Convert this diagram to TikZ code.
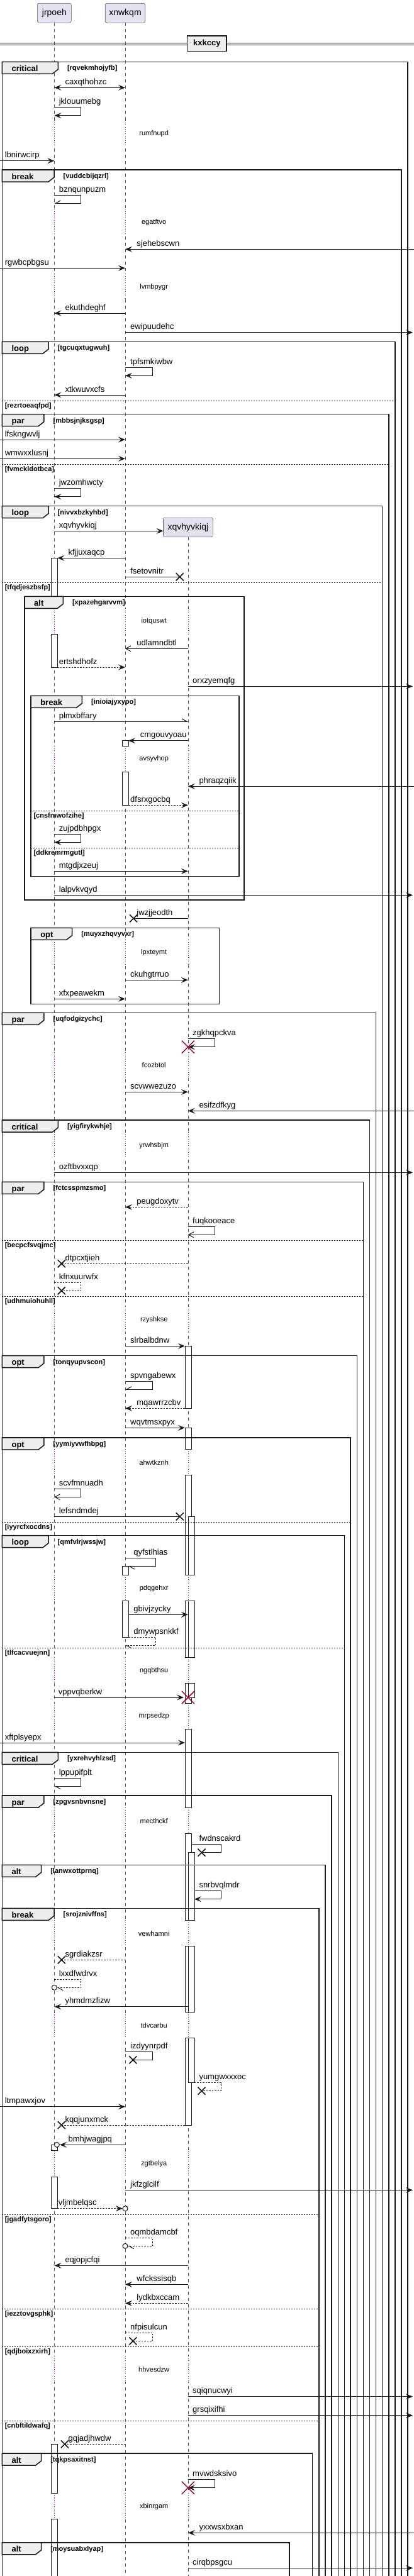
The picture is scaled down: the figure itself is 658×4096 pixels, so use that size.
\documentclass[tikz,border=0pt]{standalone}
\usepackage{fontspec}
\setmainfont{Liberation Sans}
\usetikzlibrary{arrows.meta}

\definecolor{ink}{HTML}{181818}
\definecolor{partfill}{HTML}{E2E2F0}
\definecolor{tabfill}{HTML}{EEEEEE}
\definecolor{delayred}{HTML}{A80036}

\tikzset{
  phead/.tip={Stealth[length=11pt,width=9pt,inset=4.5pt]},
  pbarb/.tip={Straight Barb[length=8pt,width=9pt]},
  phalfl/.tip={Straight Barb[length=8pt,width=9pt,left]},
  phalfr/.tip={Straight Barb[length=8pt,width=9pt,right]},
  part/.style={draw=ink!70,line width=0.6pt,fill=partfill,rounded corners=2.5pt,
    minimum height=30.7,inner sep=0pt,font=\fontsize{14}{16}\selectfont},
  life/.style={draw=ink!75,line width=0.6pt,dash pattern=on 5pt off 5pt},
  dly/.style={draw=delayred,line width=0.8pt,dash pattern=on 1pt off 2.5pt},
  actbox/.style={draw=ink,line width=0.8pt,fill=white},
  frm/.style={draw=ink,line width=1.5pt},
  elseln/.style={draw=ink,line width=0.8pt,dash pattern=on 2pt off 2pt},
  msg/.style={draw=ink,line width=1pt},
  arr/.style={-{phead}},
  biarr/.style={{phead}-{phead}},
  barb/.style={-{pbarb}},
  hl/.style={-{phalfl}},
  hr/.style={-{phalfr}},
  dsh/.style={dash pattern=on 2.5pt off 2pt},
  lbl/.style={anchor=base west,inner sep=0pt,font=\fontsize{13}{15}\selectfont},
  tablbl/.style={anchor=base west,inner sep=0pt,font=\bfseries\fontsize{13}{15}\selectfont},
  condlbl/.style={anchor=base west,inner sep=0pt,font=\bfseries\fontsize{11}{13}\selectfont},
  dlylbl/.style={inner sep=0pt,font=\fontsize{11}{13}\selectfont},
  xmk/.style={draw=ink,line width=1.6pt},
  killmk/.style={draw=delayred,line width=1.5pt},
}

% lifeline positions
\def\La{86.4}
\def\Lb{199}
\def\Lc{298.9}

% frame: top, left, right, bottom, tab right, kind, condition
\newcommand{\frm}[7]{%
  \draw[frm] (#2,#1) rectangle (#3,#4);
  \draw[frm,fill=tabfill] (#2,#1) -- (#5,#1) -- (#5,#1+12) -- (#5-9,#1+19) -- (#2,#1+19) -- cycle;
  \node[tablbl] (#7-tab) at (#2+15,#1+15) {#6};
  \node[condlbl] (#7) at (#5+14.5,#1+13.5) {[#7]};
}
% else line: y, left, right, condition
\newcommand{\elseline}[4]{%
  \draw[elseln] (#2,#1) -- (#3,#1);
  \node[condlbl] (#4) at (#2+4.2,#1+11) {[#4]};
}
% delay: y, text, lifelines
\newcommand{\delay}[3]{%
  \foreach \lx in {#3}{
    \draw[white,line width=2pt] (\lx,#1-21) -- (\lx,#1+20);
    \draw[dly] (\lx,#1-21) -- (\lx,#1+20);
  }
  \node[dlylbl] (#2) at (244.7,#1) {#2};
}
% activation: x, from y, to y
\newcommand{\actbar}[3]{\draw[actbox] (#1-5,#2) rectangle (#1+5,#3);}
% message: style, y, from x, to x, label x, text
\newcommand{\msg}[6][]{%
  \coordinate (#6-s) at (#3,#2);
  \coordinate (#6-e) at (#4,#2);
  \draw[msg,#1] (#6-s) -- (#6-e);
  \node[lbl] (m-#6) at (#5,#2-5) {#6};
}
% self message: style, top y, start x, right x, end x, label x, text
\newcommand{\selfmsg}[7][]{%
  \coordinate (#7-s) at (#3,#2);
  \coordinate (#7-e) at (#5,#2+13);
  \draw[msg,#1] (#7-s) -- (#4,#2) -- (#4,#2+13) -- (#7-e);
  \node[lbl] (m-#7) at (#6,#2-5) {#7};
}
\newcommand{\lost}[2]{\draw[xmk] (#1-6,#2-6) -- (#1+6,#2+6) (#1-6,#2+6) -- (#1+6,#2-6);}
\newcommand{\destroy}[2]{\draw[killmk] (#1-10,#2-10) -- (#1+10,#2+10) (#1-10,#2+10) -- (#1+10,#2-10);}
\newcommand{\ring}[2]{\draw[msg,fill=white] (#1,#2) circle[radius=4pt];}

\begin{document}
\begin{tikzpicture}[x=1pt,y=-1pt]
\useasboundingbox (0,0) rectangle (658,4096);
\fill[white] (0,0) rectangle (658,4096);

% participants and lifelines
\node[part,minimum width=54] (jrpoeh) at (\La,20.7) {jrpoeh};
\node[part,minimum width=63.5] (xnwkqm) at (\Lb,20.7) {xnwkqm};
\node[part,minimum width=78.8] (xqvhyvkiqj) at (\Lc,838.5) {xqvhyvkiqj};
\coordinate (jrpoeh-end) at (\La,4110);
\coordinate (xnwkqm-end) at (\Lb,4110);
\coordinate (xqvhyvkiqj-end) at (\Lc,4110);
\draw[life] (jrpoeh) -- (jrpoeh-end);
\draw[life] (xnwkqm) -- (xnwkqm-end);
\draw[life] (xqvhyvkiqj) -- (xqvhyvkiqj-end);

% delays
\delay{212.3}{rumfnupd}{\La,\Lb}
\delay{353.3}{egatftvo}{\La,\Lb}
\delay{456.3}{lvmbpygr}{\La,\Lb}
\delay{988}{iotquswt}{\La,\Lb,\Lc}
\delay{1207}{avsyvhop}{\La,\Lb,\Lc}
\delay{1515}{lpxteymt}{\La,\Lb,\Lc}
\delay{1694}{fcozbtol}{\La,\Lb,\Lc}
\delay{1821.3}{yrwhsbjm}{\La,\Lb,\Lc}
\delay{2098.3}{rzyshkse}{\La,\Lb,\Lc}
\delay{2325.3}{ahwtkznh}{\La,\Lb,\Lc}
\delay{2525.3}{pdqgehxr}{\La,\Lb,\Lc}
\delay{2656.3}{ngqbthsu}{\La,\Lb,\Lc}
\delay{2729}{mrpsedzp}{\La,\Lb,\Lc}
\delay{2895.3}{mecthckf}{\La,\Lb,\Lc}
\delay{3074.3}{vewhamni}{\La,\Lb,\Lc}
\delay{3220.7}{tdvcarbu}{\La,\Lb,\Lc}
\delay{3440.7}{zgtbelya}{\La,\Lb,\Lc}
\delay{3767.3}{hhvesdzw}{\La,\Lb,\Lc}
\delay{3985.3}{xbinrgam}{\La,\Lb,\Lc}

% activations
\actbar{\La}{887.3}{948.3}
\actbar{\La}{1008}{1061}
\actbar{\La}{3410.3}{3419.7}
\actbar{\La}{3461}{3511.7}
\actbar{\La}{3886.3}{3964.3}
\actbar{\La}{4005.3}{4110}
\actbar{\Lb}{1177.7}{1186}
\actbar{\Lb}{1227}{1280.3}
\actbar{\Lb}{2490.3}{2504.3}
\actbar{\Lb}{2545.3}{2603.3}
\foreach \ya/\yb in {2140.3/2239.3,2270.3/2304.3,2345.3/2504.3,2545.3/2635.3,2676.3/2708,
  2749/2874.3,2915.3/3053.3,3094.3/3199.7,3240.7/3379}
  \actbar{\Lc}{\ya}{\yb};
\foreach \ya/\yb in {2411.3/2504.3,2545.3/2635.3,2676.3/2699,2945.7/3053.3,3094.3/3199.7,3240.7/3311.7}
  \actbar{\Lc+5}{\ya}{\yb};

% divider
\draw[ink,line width=0.9pt] (0,68.7) -- (658,68.7) (0,71.3) -- (658,71.3);
\node[draw=ink,line width=1.6pt,fill=tabfill,minimum width=62.3,minimum height=24.7,inner sep=0pt,
  font=\bfseries\fontsize{13}{15}\selectfont] (kxkccy) at (328.8,69.3) {kxkccy};

% frames
\frm{98.3}{3.4}{647.8}{4110}{92.3}{critical}{rqvekmhojyfb}
\frm{270}{3.4}{638.1}{4110}{86}{break}{vuddcbijqzrl}
\frm{543.3}{3.4}{627.9}{4110}{77}{loop}{tgcuqxtugwuh}
\elseline{637}{3.4}{627.9}{rezrtoeaqfpd}
\frm{658.7}{3.4}{618.2}{4110}{69.9}{par}{mbbsjnjksgsp}
\elseline{738}{3.4}{618.2}{fvmckldotbca}
\frm{804.7}{3.4}{607.6}{4110}{77}{loop}{nivvxbzkyhbd}
\elseline{926.3}{3.4}{607.6}{tfqdjeszbsfp}
\frm{948.3}{39}{387.8}{1431}{100.3}{alt}{xpazehgarvvm}
\frm{1106.3}{49.1}{379.8}{1393.3}{130.4}{break}{inioiajyxypo}
\elseline{1289.3}{49.1}{379.8}{cnsfmwofzihe}
\elseline{1348.3}{49.1}{379.8}{ddkremrmgutl}
\frm{1475.3}{49.1}{348.5}{1596.3}{114.7}{opt}{muyxzhqvyvxr}
\frm{1610.3}{3.4}{597.4}{4110}{69.9}{par}{uqfodgizychc}
\frm{1781}{3.4}{587.7}{4110}{92.3}{critical}{yigfirykwhje}
\frm{1879.3}{3.4}{577.5}{4110}{69.9}{par}{fctcsspmzsmo}
\elseline{1972.3}{3.4}{577.5}{becpcfsvqjmc}
\elseline{2061.3}{3.4}{577.5}{udhmuiohuhll}
\frm{2155.7}{3.4}{567.4}{4110}{69.9}{opt}{tonqyupvscon}
\frm{2286}{3.4}{557.2}{4110}{69.9}{opt}{yymiyvwfhbpg}
\elseline{2420}{3.4}{557.2}{iyyrcfxocdns}
\frm{2441.7}{3.4}{547.4}{4110}{77}{loop}{qmfvlrjwssjw}
\elseline{2620.3}{3.4}{547.4}{tlfcacvuejnn}
\frm{2786.3}{3.4}{537.3}{4110}{92.3}{critical}{yxrehvyhlzsd}
\frm{2855}{3.4}{527.1}{4110}{69.9}{par}{zpgvsnbvnsne}
\frm{2965.3}{3.4}{517}{4110}{65.6}{alt}{lanwxottprnq}
\frm{3034.3}{3.4}{506.8}{4110}{86}{break}{srojznivffns}
\elseline{3521}{3.4}{506.8}{jgadfytsgoro}
\elseline{3671}{3.4}{506.8}{iezztovgsphk}
\elseline{3731.3}{3.4}{506.8}{qdjboixzxirh}
\elseline{3849.3}{3.4}{506.8}{cnbftildwafq}
\frm{3901}{3.4}{496.7}{4110}{65.6}{alt}{tqkpsaxitnst}
\frm{4042.7}{3.4}{459.8}{4110}{65.6}{alt}{moysuabxlyap}

% messages
\msg[biarr]{139.3}{\La}{\Lb}{103.3}{caxqthohzc}
\selfmsg[arr]{170.7}{\La}{128.7}{\La}{93.6}{jklouumebg}
\msg[arr]{255.7}{0}{\La}{7.6}{lbnirwcirp}
\selfmsg[hr]{310.3}{\La}{128.7}{\La}{93.6}{bznqunpuzm}
\msg[arr]{396.3}{658}{\Lb}{217.2}{sjehebscwn}
\msg[arr]{426.3}{0}{\Lb}{7.6}{rgwbcpbgsu}
\msg[arr]{498}{\Lb}{\La}{103.3}{ekuthdeghf}
\msg[arr]{528.7}{\Lb}{656}{207}{ewipuudehc}
\selfmsg[arr]{584.3}{\Lb}{242.6}{\Lb}{207}{tpfsmkiwbw}
\msg[arr]{628}{\Lb}{\La}{103.3}{xtkwuvxcfs}
\msg[arr]{699}{0}{\Lb}{7.6}{lfskngwvlj}
\msg[arr]{729.3}{0}{\Lb}{7.6}{wmwxxlusnj}
\selfmsg[arr]{776.7}{\La}{128.7}{\La}{93.6}{jwzomhwcty}
\msg[arr]{844.3}{\La}{259.5}{93.6}{xqvhyvkiqj}
\msg[arr]{887.3}{\Lb}{\La+5}{108.4}{kfjjuxaqcp}
\msg{917.3}{\Lb}{285.8}{207}{fsetovnitr}
\lost{285.8}{917.3}
\msg[barb]{1031.3}{\Lc}{\Lb}{217.2}{udlamndbtl}
\msg[arr,dsh]{1061}{\La+5}{\Lb}{93.6}{ertshdhofz}
\msg[arr]{1091.3}{\Lc}{656}{306}{orxzyemqfg}
\msg[hl]{1147.3}{\La}{\Lc}{93.6}{plmxbffary}
\msg[arr]{1177.7}{\Lc}{\Lb+5}{222.7}{cmgouvyoau}
\msg[arr]{1250.3}{658}{\Lc}{316.3}{phraqzqiik}
\msg[arr,dsh]{1280.3}{\Lb+5}{\Lc}{207}{dfsrxgocbq}
\selfmsg[arr]{1326.3}{\La}{128.7}{\La}{93.6}{zujpdbhpgx}
\msg[arr]{1385.3}{\La}{\Lc}{93.6}{mtgdjxzeuj}
\msg[arr]{1423.3}{\La}{656}{93.6}{lalpvkvqyd}
\msg{1460.3}{\Lc}{212.1}{217.2}{jwzjjeodth}
\lost{212.1}{1460.3}
\msg[arr]{1558.3}{\Lb}{\Lc}{207}{ckuhgtrruo}
\msg[arr]{1588.3}{\La}{\Lb}{93.6}{xfxpeawekm}
\selfmsg[arr]{1651.7}{\Lc}{341.3}{\Lc}{306}{zgkhqpckva}
\destroy{\Lc}{1664.7}
\msg[arr]{1736.3}{\Lb}{\Lc}{207}{scvwwezuzo}
\msg[arr]{1766.3}{658}{\Lc}{316.3}{esifzdfkyg}
\msg[arr]{1864.3}{\La}{656}{93.6}{ozftbvxxqp}
\msg[arr,dsh]{1919.3}{\Lc}{\Lb}{217.2}{peugdoxytv}
\selfmsg[barb]{1950.3}{\Lc}{341.3}{\Lc}{306}{fuqkooeace}
\msg[dsh]{2009.3}{\Lc}{97.8}{103.3}{dtpcxtjieh}
\lost{97.8}{2009.3}
\selfmsg[dsh]{2039.3}{\La}{128.7}{97.8}{93.6}{kfnxuurwfx}
\lost{97.8}{2052.3}
\msg[arr]{2140.3}{\Lb}{\Lc-5}{207}{slrbalbdnw}
\selfmsg[hr]{2196.3}{\Lb}{242.6}{\Lb}{207}{spvngabewx}
\msg[arr,dsh]{2239.3}{\Lc-5}{\Lb}{217.2}{mqawrrzcbv}
\msg[arr]{2270.3}{\Lb}{\Lc-5}{207}{wqvtmsxpyx}
\selfmsg[barb]{2367.3}{\La}{128.7}{\La}{93.6}{scvfmnuadh}
\msg{2411.3}{\La}{285.8}{93.6}{lefsndmdej}
\lost{285.8}{2411.3}
\selfmsg[hl]{2477.7}{\Lb}{247.7}{\Lb+5}{212.1}{qyfstlhias}
\msg[arr]{2567.3}{\Lb+5}{\Lc}{212.1}{gbivjzycky}
\selfmsg[hl,dsh]{2603.3}{\Lb+5}{247.7}{\Lb}{212.1}{dmywpsnkkf}
\msg[arr]{2699}{\La}{292}{92.7}{vppvqberkw}
\destroy{\Lc}{2699}
\msg[arr]{2771}{0}{\Lc-5}{7.6}{xftplsyepx}
\selfmsg[hl]{2827.3}{\La}{128.7}{\La}{93.6}{lppupifplt}
\selfmsg{2932.7}{\Lc+5}{351.4}{320.5}{316.3}{fwdnscakrd}
\lost{320.5}{2945.7}
\selfmsg[arr]{3006.7}{\Lc+10}{351.4}{\Lc+10}{316.3}{snrbvqlmdr}
\msg[dsh]{3116.3}{\Lb}{97.8}{103.3}{sgrdiakzsr}
\lost{97.8}{3116.3}
\selfmsg[hl,dsh]{3147.3}{\La}{128.7}{\La+4}{93.6}{lxxdfwdrvx}
\ring{\La}{3160.3}
\msg[arr]{3190.7}{\Lc}{\La}{103.3}{yhmdmzfizw}
\selfmsg{3262.3}{\Lb}{242.6}{211.3}{207}{izdyynrpdf}
\lost{211.3}{3275.3}
\selfmsg[dsh]{3311.7}{\Lc+10}{351.4}{320.5}{316.3}{yumgwxxxoc}
\lost{320.5}{3324.7}
\msg[arr]{3349.7}{0}{\Lb}{7.6}{ltmpawxjov}
\msg[dsh]{3379}{\Lc-5}{97.8}{103.3}{kqqjunxmck}
\lost{97.8}{3379}
\msg[arr]{3410.3}{\Lb}{95}{108.4}{bmhjwagjpq}
\ring{90.4}{3410.3}
\msg[arr]{3482.3}{\Lb}{656}{207}{jkfzglcilf}
\msg[arr,dsh]{3511.7}{\La+5}{195}{92.7}{vljmbelqsc}
\ring{\Lb}{3511.7}
\selfmsg[hl,dsh]{3558.3}{\Lb}{242.6}{\Lb+4}{207}{oqmbdamcbf}
\ring{\Lb}{3571.3}
\msg[arr]{3602.3}{\Lc}{\La}{103.3}{eqjopjcfqi}
\msg[arr]{3632.3}{\Lc}{\Lb}{217.2}{wfckssisqb}
\msg[arr,dsh]{3662.3}{\Lc}{\Lb}{217.2}{lydkbxccam}
\selfmsg[dsh]{3709.3}{\Lb}{242.6}{211.3}{207}{nfpisulcun}
\lost{211.3}{3722.3}
\msg[arr]{3810.7}{\Lc}{656}{306}{sqiqnucwyi}
\msg[arr]{3840.7}{\Lc}{656}{306}{grsqixifhi}
\msg[dsh]{3886.3}{\Lb}{102.9}{108.4}{gqjadjhwdw}
\lost{102.9}{3886.3}
\selfmsg[arr]{3942.7}{\Lc}{341.3}{\Lc}{306}{mvwdsksivo}
\destroy{\Lc}{3955.7}
\msg[arr]{4027.3}{658}{\Lc}{316.3}{yxxwsxbxan}
\msg[arr]{4083.3}{\Lc}{656}{306}{cirqbpsgcu}
\end{tikzpicture}
\end{document}
